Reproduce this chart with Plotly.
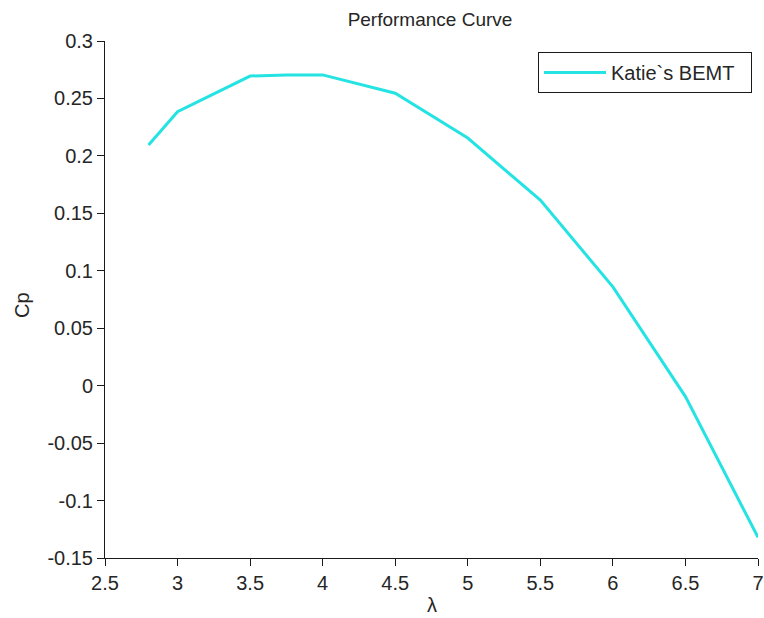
import plotly.graph_objects as go

tsr = [2.8, 3.0, 3.5, 3.75, 4.0, 4.5, 5.0, 5.5, 6.0, 6.5, 7.0]
cp = [0.2095, 0.2385, 0.2695, 0.2705, 0.2705, 0.2545, 0.2155, 0.1615, 0.086, -0.0095, -0.132]

x_ticks = [2.5, 3, 3.5, 4, 4.5, 5, 5.5, 6, 6.5, 7]
x_labels = ["2.5", "3", "3.5", "4", "4.5", "5", "5.5", "6", "6.5", "7"]
y_ticks = [-0.15, -0.1, -0.05, 0, 0.05, 0.1, 0.15, 0.2, 0.25, 0.3]
y_labels = ["-0.15", "-0.1", "-0.05", "0", "0.05", "0.1", "0.15", "0.2", "0.25", "0.3"]

font_family = "Liberation Sans, Arial, sans-serif"
txt = "#262626"
axis_col = "#1a1a1a"
FS = 20

W, H = 764, 618
ML, MR, MT, MB = 105, 6, 41, 60
PW, PH = W - ML - MR, H - MT - MB

fig = go.Figure()
fig.add_trace(go.Scatter(x=tsr, y=cp, mode="lines", name="Katie`s BEMT\u00a0\u00a0",
                         line=dict(color="#26e3e3", width=3)))

fig.update_layout(
    width=W, height=H,
    margin=dict(l=ML, r=MR, t=MT, b=MB, autoexpand=False),
    paper_bgcolor="white", plot_bgcolor="white",
    font=dict(family=font_family, size=FS, color=txt),
    title=dict(text="Performance Curve", x=430 / W, xanchor="center", xref="container",
               y=1 - 19 / H, yanchor="middle", yref="container",
               font=dict(size=FS - 1, color=txt)),
    showlegend=True,
    legend=dict(x=(752 - ML) / PW, y=1 - (52 - MT) / PH, xanchor="right", yanchor="top",
                bordercolor=axis_col, borderwidth=1, bgcolor="white",
                font=dict(size=FS, color=txt), itemwidth=62),
    xaxis=dict(range=[2.5, 7], tickvals=x_ticks, ticktext=x_labels, automargin=False,
               ticklabeloverflow="allow",
               showgrid=False, zeroline=False, showline=True, linecolor=axis_col,
               linewidth=1, ticks="outside", ticklen=7, tickcolor=axis_col),
    yaxis=dict(range=[-0.15, 0.3], tickvals=y_ticks, ticktext=y_labels, automargin=False,
               showgrid=False, zeroline=False, showline=True, linecolor=axis_col,
               linewidth=1, ticks="outside", ticklen=7, tickcolor=axis_col),
    annotations=[
        dict(text="λ", xref="paper", yref="paper", x=(432 - ML) / PW,
             y=-(605 - (H - MB)) / PH, xanchor="center", yanchor="middle",
             showarrow=False, font=dict(size=FS, color=txt)),
        dict(text="Cp", xref="paper", yref="paper", x=-(ML - 22) / PW,
             y=(H - MB - 305) / PH, xanchor="center", yanchor="middle",
             textangle=-90, showarrow=False, font=dict(size=FS, color=txt)),
    ],
)

fig.write_html(
    "out.html",
    config={"displayModeBar": False},
    post_script="document.body.style.margin='0';document.body.style.overflow='hidden';",
)
